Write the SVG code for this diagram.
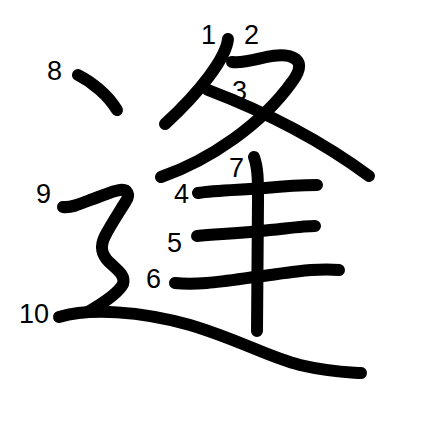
<svg xmlns="http://www.w3.org/2000/svg" width="447" height="447" viewBox="0 0 447 447">
<style>
.s{fill:none;stroke:#000;stroke-width:12;stroke-linecap:round;stroke-linejoin:round}
.n{font-family:"Liberation Sans",Arial,sans-serif;font-size:27px;fill:#000}
</style>
<rect width="447" height="447" fill="#fff"/>
<g id="strokes">
<path id="s1" class="s" d="M228,39 C226,58 200,92 165,124"/>
<path id="s2" class="s" d="M232,62 C252,64 270,52 289,56 C303,60 301,70 292,82 C262,124 210,160 161,177"/>
<path id="s3" class="s" d="M208,90 Q300,125 369,176"/>
<path id="s4" class="s" d="M198,193 C215,190 240,190 265,188 C285,186 300,185 317,185"/>
<path id="s5" class="s" d="M197,236 C220,234 245,233 270,230 C290,228 305,226 315,226"/>
<path id="s6" class="s" d="M175,283 C200,286 230,280 270,275 C300,271 320,268 339,270"/>
<path id="s7" class="s" d="M254,157 C258,168 258,180 258,200 L257,331"/>
<path id="s8" class="s" d="M78,75 C92,82 108,95 117,110"/>
<path id="s9" class="s" d="M63,207 C72,208 80,204 90,200 C102,196 112,191 120,190 C128,189 130,195 126,201 C118,214 110,226 105,236 C100,246 101,254 109,262 C116,269 126,275 123,284 C118,294 100,305 88,312"/>
<path id="s10" class="s" d="M59,317 C90,308 140,311 190,325 C240,340 268,357 300,365 C330,372 345,372 361,373"/>
</g>
<g id="labels">
<text class="n" x="201" y="44">1</text>
<text class="n" x="244" y="44">2</text>
<text class="n" x="232" y="100">3</text>
<text class="n" x="174" y="203">4</text>
<text class="n" x="167" y="252">5</text>
<text class="n" x="146" y="288">6</text>
<text class="n" x="229" y="177">7</text>
<text class="n" x="47" y="80">8</text>
<text class="n" x="36" y="203">9</text>
<text class="n" x="19" y="323">10</text>
</g>
</svg>
